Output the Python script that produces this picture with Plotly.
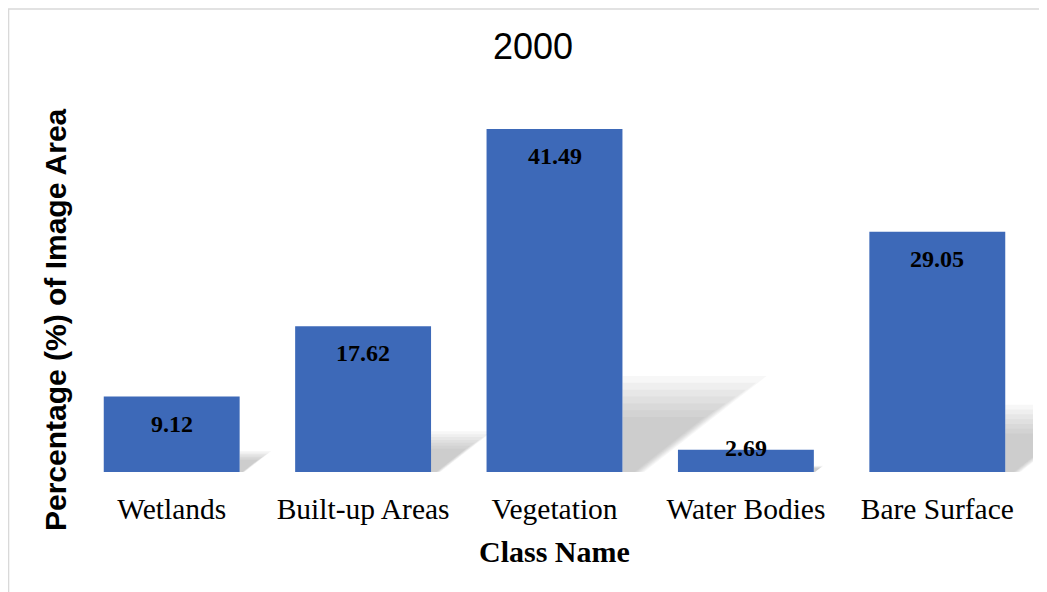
import plotly.graph_objects as go

classes = ["Wetlands", "Built-up Areas", "Vegetation", "Water Bodies", "Bare Surface"]
pct = [9.12, 17.62, 41.49, 2.69, 29.05]
labels = ["9.12", "17.62", "41.49", "2.69", "29.05"]

BAR_W = 0.71
SERIF = "Liberation Serif, Times New Roman, serif"
SANS = "Liberation Sans, Arial, sans-serif"

fig = go.Figure()

# soft drop shadow behind each bar (Excel style), stacked layers fake the blur
for i, v in enumerate(pct):
    xr = i + BAR_W / 2
    h = 0.25 * v
    dx = 0.0162 * v
    for k in [1.12, 1.04, 0.96, 0.88, 0.8, 0.72, 0.64]:
        hh = h * k
        dd = dx * k
        path = (f"M {xr},0 L {xr},{hh} L {xr + dd},{hh} "
                f"L {xr + dd * 0.15},0 Z")
        fig.add_shape(type="path", path=path, xref="x", yref="y",
                      fillcolor="rgba(110,110,110,0.055)", line_width=0,
                      layer="below")

fig.add_trace(go.Bar(
    x=classes, y=pct, width=BAR_W,
    marker=dict(color="#3D69B8", line_width=0),
    hoverinfo="x+y",
))

# value labels just inside the top of each bar
for c, v, t in zip(classes, pct, labels):
    fig.add_annotation(x=c, y=v, text=f"<b>{t}</b>", showarrow=False,
                       yanchor="middle", yshift=-27 if v > 5 else 2,
                       font=dict(family=SERIF, size=24, color="black"))

fig.add_annotation(x=0.4775, y=1.1425, xref="paper", yref="paper",
                   text="2000", showarrow=False,
                   xanchor="center", yanchor="middle",
                   font=dict(family=SANS, size=36, color="black"))
fig.add_annotation(x=0.5, y=-0.215, xref="paper", yref="paper",
                   text="<b>Class Name</b>", showarrow=False,
                   xanchor="center", yanchor="middle",
                   font=dict(family=SERIF, size=30, color="black"))
fig.add_annotation(x=-0.022, y=0.411, xref="paper", yref="paper",
                   text="<b>Percentage (%) of Image Area</b>", showarrow=False,
                   textangle=-90, xanchor="center", yanchor="middle",
                   font=dict(family=SANS, size=30, color="black"))

# chart frame
fig.add_shape(type="rect", xref="paper", yref="paper",
              x0=-0.0705, x1=1.2, y0=-0.5, y1=1.2446,
              line=dict(color="#D9D9D9", width=1.5), fillcolor="rgba(0,0,0,0)")

fig.update_layout(
    width=1039, height=584,
    margin=dict(l=68, r=14, t=92, b=120),
    paper_bgcolor="white", plot_bgcolor="white",
    showlegend=False,
    bargap=0.29,
)
fig.update_xaxes(range=[-0.5, len(classes) - 0.5],
                 showgrid=False, showline=False, zeroline=False,
                 ticks="", ticklabelstandoff=16, automargin=False,
                 tickfont=dict(family=SERIF, size=29.5, color="black"))
fig.update_yaxes(range=[0, 45], showgrid=False, showline=False, zeroline=False,
                 showticklabels=False, ticks="", automargin=False)

fig.write_html("out.html")
